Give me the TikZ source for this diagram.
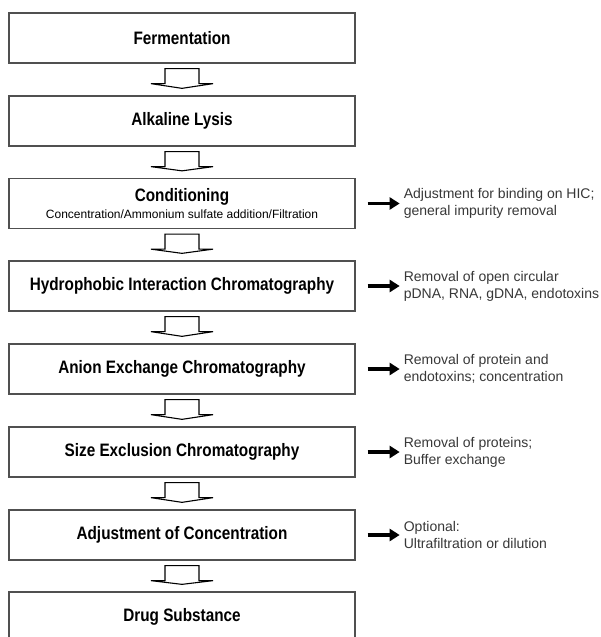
\documentclass[tikz,border=0pt]{standalone}
\usepackage{fontspec}
\setmainfont{Liberation Sans}
\newfontfamily\boxfont[FakeStretch=0.85]{Liberation Sans}
\usetikzlibrary{arrows.meta,calc}
\definecolor{boxgray}{HTML}{505050}
\definecolor{notegray}{HTML}{383838}
\begin{document}
\begin{tikzpicture}[x=1pt,y=-1pt,
  stage/.style={draw=boxgray, line width=1.3pt, minimum width=346pt, minimum height=50pt, inner sep=0pt, font=\boxfont\bfseries\fontsize{18}{20}\selectfont, align=center},
  note/.style={anchor=west, font=\fontsize{14}{17}\selectfont, text=notegray, align=left, inner sep=0pt},
  side/.style={line width=3.5pt, -{Triangle[length=10pt,width=12pt]}, shorten <=12pt, shorten >=4pt},
  hollow/.style={draw=black, line width=1.1pt, fill=white, line join=miter}]
\fill[white] (0,0) rectangle (600,637);
\useasboundingbox (0,0) rectangle (600,637);

\node[stage] (b1) at (182,38) {Fermentation};
\node[stage] (b2) at (182,121) {Alkaline Lysis};
\node[stage] (b3) at (182,203.5) {Conditioning\\[-3pt]{\rmfamily\mdseries\fontsize{12}{14}\selectfont Concentration/Ammonium sulfate addition/Filtration}};
\node[stage] (b4) at (182,286) {Hydrophobic Interaction Chromatography};
\node[stage] (b5) at (182,369) {Anion Exchange Chromatography};
\node[stage] (b6) at (182,452) {Size Exclusion Chromatography};
\node[stage] (b7) at (182,535) {Adjustment of Concentration};
\node[stage] (b8) at (182,617) {Drug Substance};

\foreach \a/\b in {b1/b2,b2/b3,b3/b4,b4/b5,b5/b6,b6/b7,b7/b8}{
  \draw[hollow] ($(\a.south)+(-17,5)$) -- ($(\a.south)+(17,5)$) -- ($(\a.south)+(17,20)$)
    -- ($(\a.south)+(31,20)$) -- ($(\b.north)+(0,-7)$) -- ($(\a.south)+(-31,20)$)
    -- ($(\a.south)+(-17,20)$) -- cycle;
}

\node[note] (n3) at ($(b3.east)+(48,0)$) {Adjustment for binding on HIC;\\general impurity removal};
\node[note] (n4) at ($(b4.east)+(48,0)$) {Removal of open circular\\pDNA, RNA, gDNA, endotoxins};
\node[note] (n5) at ($(b5.east)+(48,0)$) {Removal of protein and\\endotoxins; concentration};
\node[note] (n6) at ($(b6.east)+(48,0)$) {Removal of proteins;\\Buffer exchange};
\node[note] (n7) at ($(b7.east)+(48,0)$) {Optional:\\Ultrafiltration or dilution};

\foreach \i in {3,4,5,6,7}{
  \draw[side] (b\i.east) -- (n\i.west);
}
\end{tikzpicture}
\end{document}
